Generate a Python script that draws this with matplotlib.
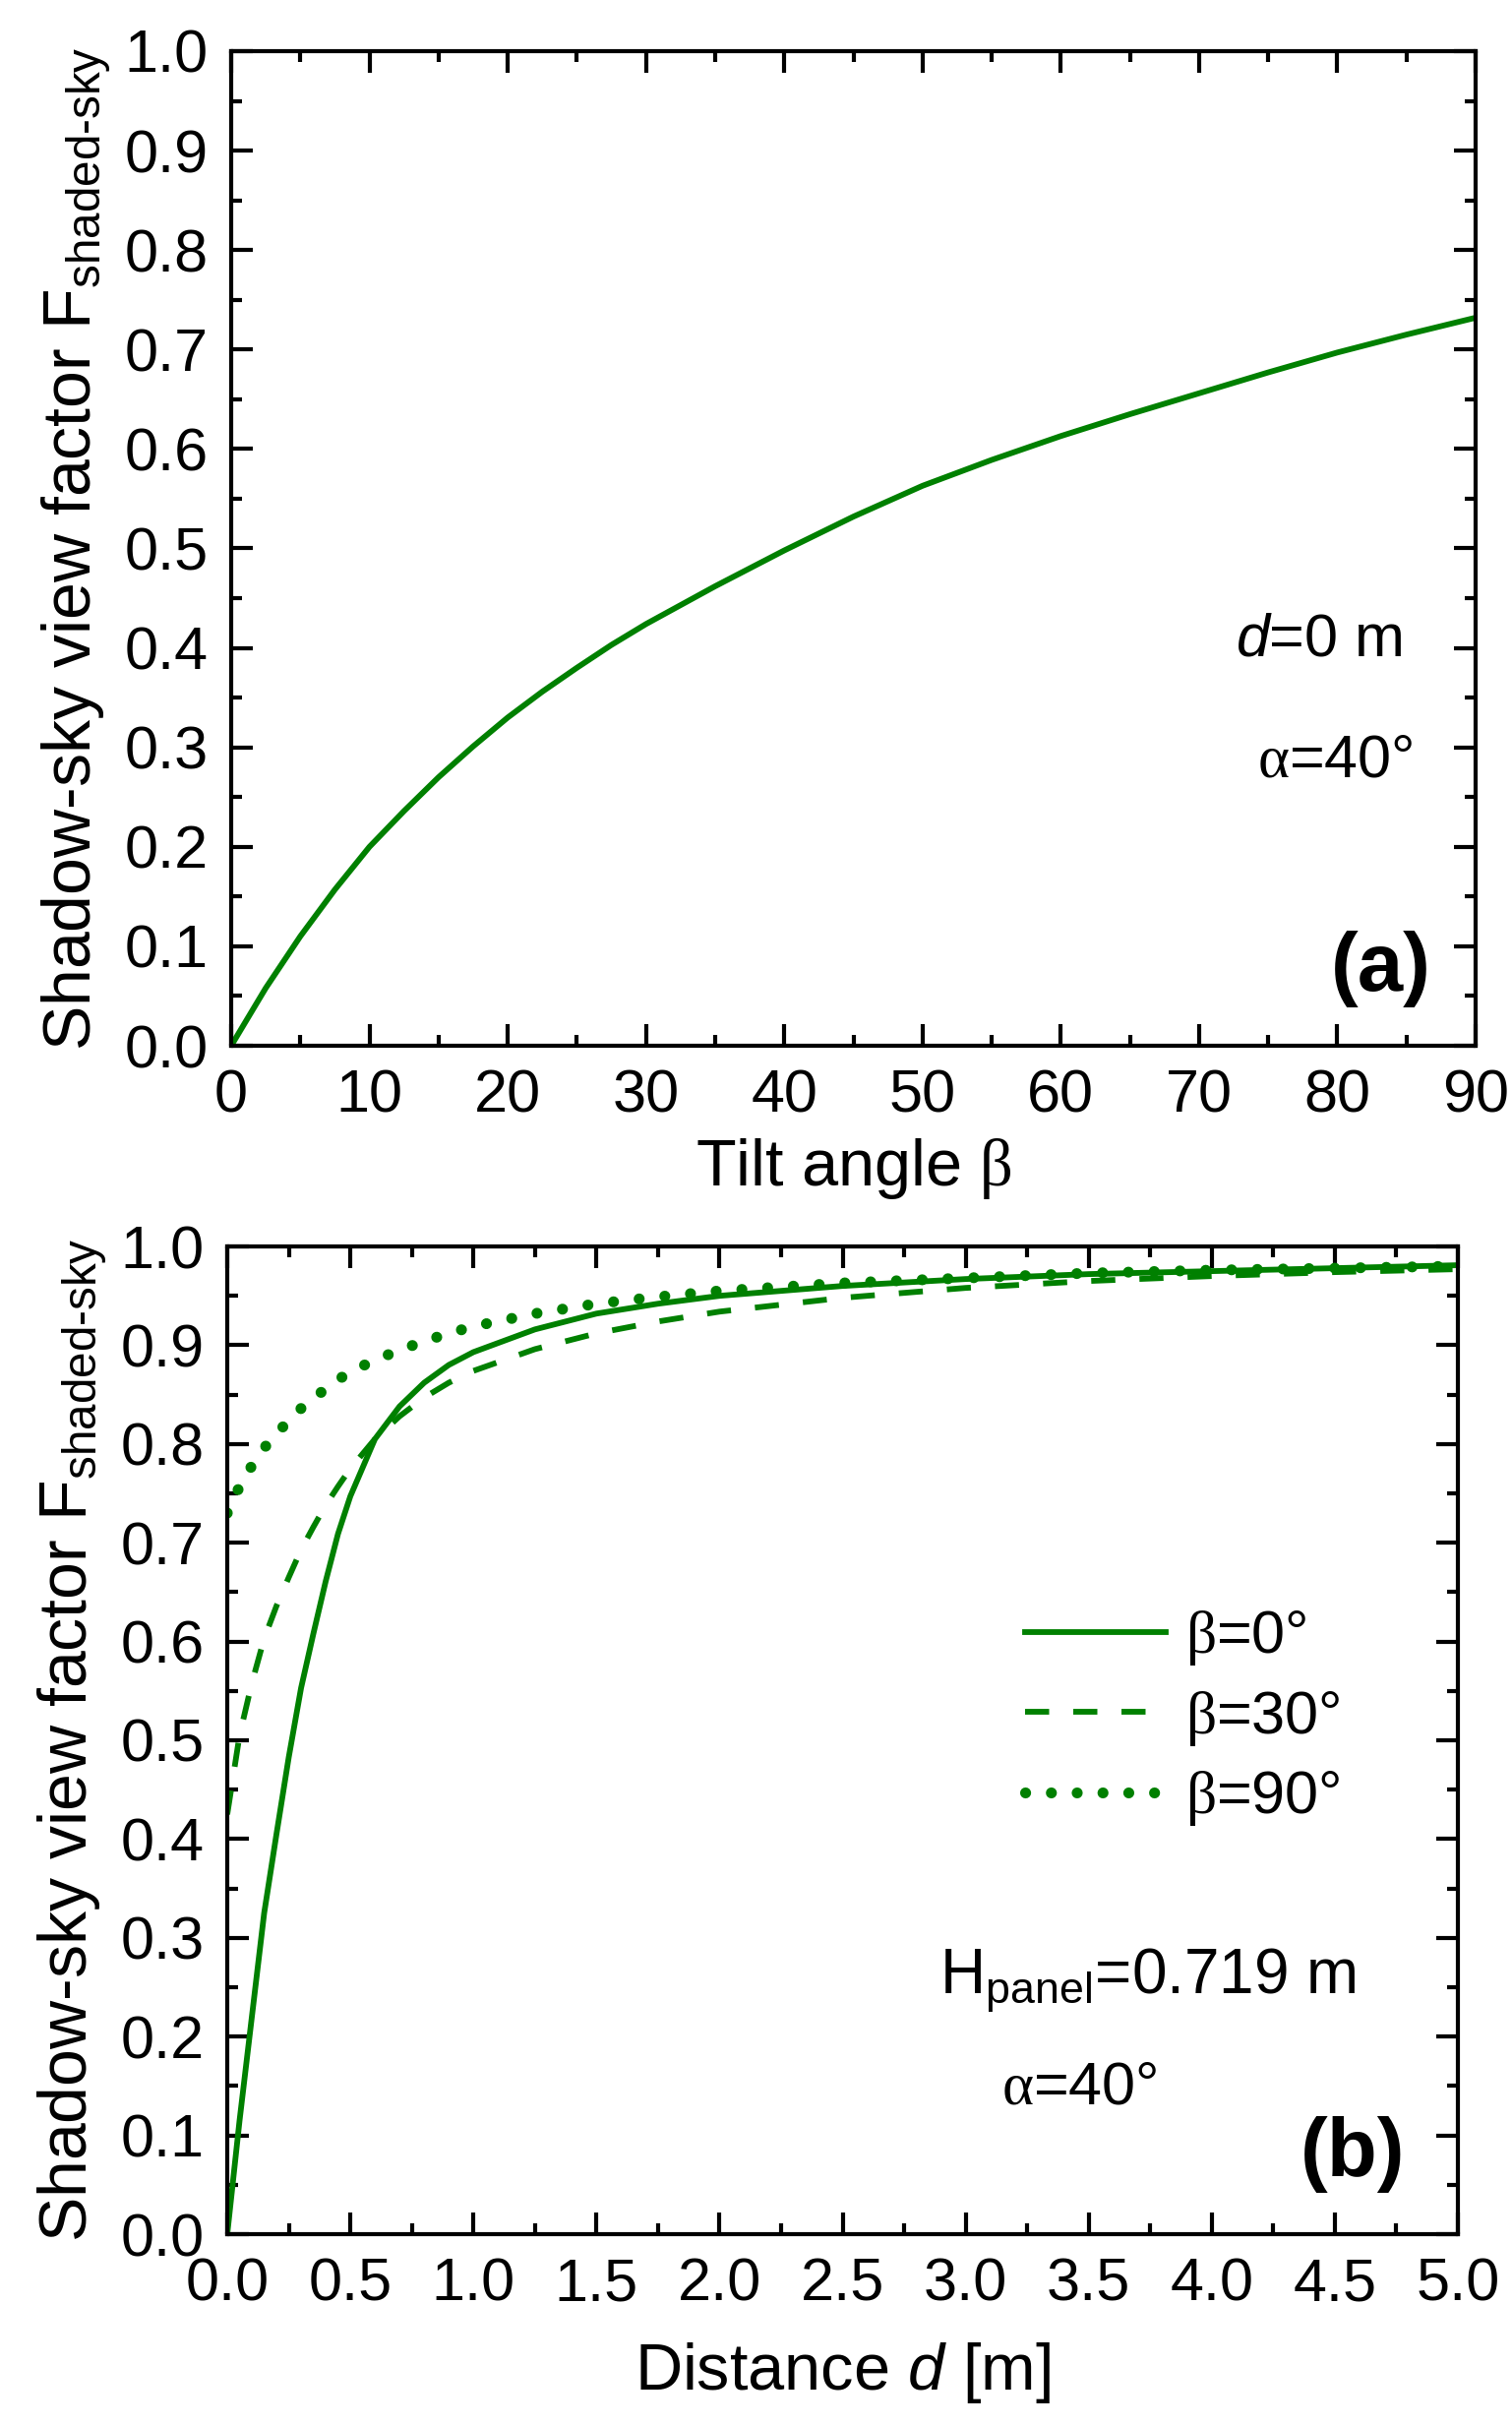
import numpy as np
import matplotlib
matplotlib.use('Agg')
import matplotlib.pyplot as plt
from matplotlib.ticker import MultipleLocator, FormatStrFormatter

# ---- data
tilt_deg = [0, 2.5, 5, 7.5, 10, 12.5, 15, 17.5, 20, 22.5, 25, 27.5, 30, 35, 40, 45,
            50, 55, 60, 65, 70, 75, 80, 85, 90]
f_tilt = [0.0, 0.058, 0.11, 0.157, 0.20, 0.236, 0.27, 0.301, 0.33, 0.356, 0.38, 0.403,
          0.424, 0.462, 0.498, 0.532, 0.563, 0.589, 0.613, 0.635, 0.656, 0.677, 0.697,
          0.715, 0.732]

dist_m = [0, 0.05, 0.1, 0.15, 0.2, 0.25, 0.3, 0.35, 0.4, 0.45, 0.5, 0.6, 0.7, 0.8,
          0.9, 1.0, 1.25, 1.5, 1.75, 2.0, 2.5, 3.0, 3.5, 4.0, 4.5, 5.0]
f_beta0 = [0.0, 0.115, 0.22, 0.325, 0.405, 0.483, 0.553, 0.608, 0.661, 0.709, 0.747,
           0.805, 0.838, 0.862, 0.88, 0.893, 0.916, 0.932, 0.942, 0.95, 0.96, 0.967,
           0.972, 0.975, 0.978, 0.981]
f_beta30 = [0.425, 0.505, 0.558, 0.603, 0.636, 0.665, 0.693, 0.716, 0.738, 0.757, 0.775,
            0.805, 0.828, 0.847, 0.862, 0.874, 0.896, 0.912, 0.924, 0.934, 0.948, 0.958,
            0.965, 0.97, 0.974, 0.977]
f_beta90 = [0.73, 0.757, 0.778, 0.796, 0.81, 0.824, 0.836, 0.846, 0.856, 0.865, 0.873,
            0.885, 0.895, 0.904, 0.912, 0.919, 0.932, 0.942, 0.949, 0.955, 0.963, 0.968,
            0.973, 0.976, 0.978, 0.98]
beta_labels = ['0', '30', '90']

green = '#008000'

plt.rcParams['font.family'] = ['Liberation Sans', 'DejaVu Sans']
plt.rcParams['mathtext.fontset'] = 'custom'
plt.rcParams['mathtext.rm'] = 'Liberation Sans'
plt.rcParams['mathtext.it'] = 'Liberation Sans:italic'
plt.rcParams['mathtext.bf'] = 'Liberation Sans:bold'
plt.rcParams['mathtext.sf'] = 'Liberation Serif'

W, H = 1537, 2465
fig = plt.figure(figsize=(W / 100, H / 100), dpi=100)


def axes_px(l, r, t, b):
    return fig.add_axes([l / W, 1 - b / H, (r - l) / W, (b - t) / H])


def style(ax):
    for s in ax.spines.values():
        s.set_linewidth(3)
    ax.tick_params(which='both', direction='in', top=True, right=True, width=3,
                   labelsize=44, pad=17)
    ax.tick_params(which='major', length=16)
    ax.tick_params(which='minor', length=8)
    ax.yaxis.set_major_locator(MultipleLocator(0.1))
    ax.yaxis.set_minor_locator(MultipleLocator(0.05))
    ax.yaxis.set_major_formatter(FormatStrFormatter('%.1f'))
    ax.set_ylim(0, 1.0)


ylab = r'Shadow-sky view factor F$_{\text{shaded-sky}}$'

# ---- panel (a)
ax1 = axes_px(235, 1500, 52, 1063)
style(ax1)
ax1.plot(tilt_deg, f_tilt, color=green, lw=4.2)
ax1.set_xlim(0, 90)
ax1.xaxis.set_major_locator(MultipleLocator(10))
ax1.xaxis.set_minor_locator(MultipleLocator(5))
ax1.set_xlabel(r'Tilt angle $\mathsf{β}$', fontsize=48, labelpad=8)
ax1.set_ylabel(ylab, fontsize=49, labelpad=8)
ax1.text(0.9415, 0.392, r'$d$=0 m', transform=ax1.transAxes, fontsize=44,
         ha='right', va='baseline')
ax1.text(0.950, 0.271, r'$\mathsf{α}$=40°', transform=ax1.transAxes, fontsize=44,
         ha='right', va='baseline')
ax1.text(0.9644, 0.077, '(a)', transform=ax1.transAxes, fontsize=60,
         fontweight='bold', ha='right', va='center')

# ---- panel (b)
ax2 = axes_px(231, 1482, 1267, 2271)
style(ax2)
ax2.plot(dist_m, f_beta0, color=green, lw=4.2,
         label=r'$\mathsf{β}$=' + beta_labels[0] + '°')
ax2.plot(dist_m, f_beta30, color=green, lw=4.2, dashes=(4.2, 4.2),
         label=r'$\mathsf{β}$=' + beta_labels[1] + '°')
ax2.plot(dist_m, f_beta90, color=green, lw=8, dashes=(0.01, 2.35),
         dash_capstyle='round', label=r'$\mathsf{β}$=' + beta_labels[2] + '°')
ax2.set_xlim(0, 5.0)
ax2.xaxis.set_major_locator(MultipleLocator(0.5))
ax2.xaxis.set_minor_locator(MultipleLocator(0.25))
ax2.xaxis.set_major_formatter(FormatStrFormatter('%.1f'))
ax2.set_xlabel(r'Distance $d$ [m]', fontsize=48, labelpad=20)
ax2.set_ylabel(ylab, fontsize=49, labelpad=8)
ax2.legend(loc='upper left', bbox_to_anchor=(0.6483, 0.633), frameon=False,
           fontsize=44, handlelength=2.34, handletextpad=0.33, labelspacing=0.35,
           borderpad=0, borderaxespad=0)
ax2.text(0.5787, 0.243, r'H$_{\mathrm{panel}}$=0.719 m', transform=ax2.transAxes,
         fontsize=46, ha='left', va='baseline')
ax2.text(0.629, 0.1315, r'$\mathsf{α}$=40°', transform=ax2.transAxes, fontsize=44,
         ha='left', va='baseline')
ax2.text(0.9568, 0.0807, '(b)', transform=ax2.transAxes, fontsize=60,
         fontweight='bold', ha='right', va='center')

fig.savefig('out.png', dpi=100)
